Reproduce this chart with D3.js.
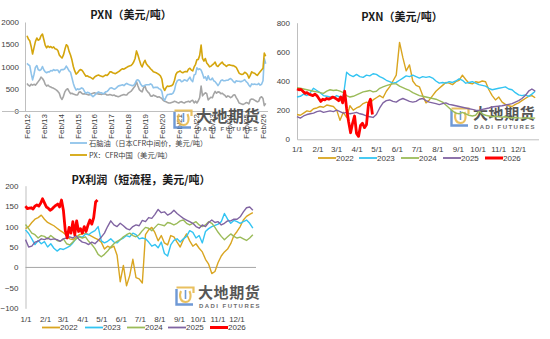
<!DOCTYPE html>
<html><head><meta charset="utf-8">
<script src="https://cdn.jsdelivr.net/npm/d3@7"></script>
<style>body{margin:0;background:#fff;}svg{display:block;}</style>
</head><body>
<svg id="c" width="550" height="339"></svg>
<script>
// ---------- Panel A: PX / naphtha / PXN, monthly from Feb 2012 ----------
const longStart = [2012, 1]; // Feb 2012
const longTickLabels = ["Feb/12","Feb/13","Feb/14","Feb/15","Feb/16","Feb/17","Feb/18","Feb/19","Feb/20","Feb/21","Feb/22","Feb/23","Feb/24","Feb/25","Feb/26"];
const pxCFR = [
1690,1620,1580,1450,1280,1420,1560,1640,1590,1610,1690,
1730,1600,1480,1420,1460,1430,1450,1420,1440,1400,1390,1360,
1260,1220,1190,1260,1380,1490,1460,1340,1260,1150,1000,900,
830,860,900,930,920,880,830,780,790,770,760,740,
720,760,780,800,810,790,780,770,790,810,800,830,
880,880,860,850,840,860,880,900,930,950,940,960,
980,1000,1010,1020,1050,1100,1180,1350,1260,1150,1050,990,
1080,1140,1060,1020,990,950,920,880,870,860,840,820,
790,720,530,460,520,560,550,560,570,600,690,820,
870,880,900,870,860,880,890,880,940,960,920,900,
990,1050,1150,1160,1250,1480,1180,1120,1180,1080,1040,990,
1010,1040,1060,1100,1020,1000,1040,1070,1100,1050,1030,1000,
1030,1040,1030,1020,1020,1000,980,920,850,830,820,830,
870,850,820,740,800,880,860,850,820,800,840,880,
920,960,1300,1230];
const naphtha = [
1070,1040,1020,850,700,820,980,1020,930,910,930,
1000,920,880,860,880,880,910,900,930,910,920,920,
860,920,930,930,950,1010,960,900,870,750,620,530,
470,500,480,500,520,500,440,400,420,410,390,350,
320,350,380,410,430,410,410,390,400,430,440,470,
510,520,510,490,500,530,560,570,580,590,570,600,
620,600,590,580,570,580,620,690,700,670,600,560,
560,580,590,590,590,610,590,520,530,530,530,500,
490,440,290,240,310,370,370,380,380,400,470,610,
680,700,700,660,670,700,690,670,720,760,690,660,
810,830,970,930,950,920,840,740,770,690,790,710,
700,740,680,660,620,570,615,680,700,680,680,690,
690,715,730,700,660,635,680,670,670,660,665,682,
705,660,635,580,545,610,595,605,595,595,620,580,
600,680,1180,1060];
const pxnSpread = [
620,580,560,600,580,600,580,620,660,700,760,
730,680,600,560,580,550,540,520,510,490,470,440,
400,300,260,330,430,480,500,440,390,400,380,370,
360,360,420,430,400,380,390,380,370,360,370,390,
400,410,400,390,380,380,370,380,390,380,360,360,
370,360,350,360,340,330,320,330,350,360,370,360,
360,400,420,440,480,520,560,660,560,480,450,430,
520,560,470,430,400,340,330,360,340,330,310,320,
300,280,240,220,210,190,180,180,190,200,220,210,
190,180,200,210,190,180,200,210,220,200,230,240,
180,220,180,230,300,560,340,380,410,390,250,280,
310,300,380,440,400,430,425,390,400,370,350,310,
340,325,300,320,360,365,300,250,180,170,155,148,
165,190,185,160,255,270,265,245,225,205,220,300,
320,280,120,170];

// ---------- Seasonal panels ----------
const yearNames = ["2022","2023","2024","2025","2026"];
const monthLabels = ["1/1","2/1","3/1","4/1","5/1","6/1","7/1","8/1","9/1","10/1","11/1","12/1"];
const dayStep = 5;      // full years: one value every 5 days
const dayStep2026 = 3;  // 2026: one value every 3 days

const pxn2022 = [170,165,180,195,190,210,215,225,220,235,230,225,200,130,185,150,230,200,215,225,245,255,250,270,285,300,285,330,360,400,440,665,560,470,510,400,370,360,300,250,270,300,330,350,370,390,385,375,395,405,440,410,385,380,395,390,400,395,340,300,270,290,255,240,230,225,240,250,265,280,295,300,285];
const pxn2023 = [290,295,310,300,320,350,335,320,300,295,290,285,300,290,295,460,440,430,445,430,425,440,435,450,445,430,420,405,395,385,390,405,420,435,430,440,430,420,430,425,430,420,400,385,390,385,395,390,400,415,405,385,390,395,385,375,370,365,350,340,345,350,355,360,345,340,320,305,300,305,295,310,330];
const pxn2024 = [355,350,345,340,335,330,325,320,315,330,340,335,338,330,320,300,290,295,305,315,325,330,335,325,330,350,360,368,375,380,380,365,355,345,335,320,310,300,295,290,285,280,275,265,255,235,215,195,180,175,185,175,165,160,165,195,175,165,160,155,158,155,152,155,150,148,150,147,145,148,145,147,145];
const pxn2025 = [155,145,160,170,175,180,190,195,185,190,195,190,200,190,180,185,175,180,185,175,170,160,155,150,170,215,250,265,270,260,255,270,280,270,260,255,260,275,280,265,255,250,245,238,245,250,240,235,230,225,220,215,210,205,200,198,205,210,215,222,225,228,230,235,240,245,255,265,280,300,330,345,330];
const pxn2026 = [345,340,342,330,315,320,310,305,300,310,300,280,260,275,270,280,275,282,290,285,275,265,290,250,330,210,120,45,110,160,40,20,95,110,80,100,240,275,170];

const profit2022 = [95,100,110,118,122,128,118,110,106,102,96,90,85,78,70,68,74,80,82,84,80,76,72,68,62,45,52,48,52,30,-35,5,-45,-20,20,-25,-28,-38,80,92,98,85,65,78,60,55,78,75,62,50,68,82,65,52,58,47,38,20,8,-15,-10,12,28,38,45,58,78,88,100,116,125,130,134];
const profit2023 = [92,83,70,56,66,58,63,50,58,47,40,46,44,48,52,60,70,76,74,82,80,86,90,100,65,60,64,70,62,60,68,72,78,75,84,80,70,72,70,62,52,56,48,62,34,28,55,66,70,62,70,76,90,86,72,78,60,88,95,100,103,106,112,132,118,108,115,112,108,112,116,108,96];
const profit2024 = [105,95,84,80,72,78,76,70,78,72,66,64,70,58,55,62,70,75,72,75,64,56,46,32,26,32,40,50,58,64,68,75,80,84,78,75,80,90,98,96,90,98,106,104,102,110,108,104,108,114,116,108,104,108,112,104,100,104,112,108,98,86,76,68,75,82,76,72,74,70,66,72,80];
const profit2025 = [68,50,52,62,64,70,68,72,68,70,68,64,70,72,75,72,78,68,62,60,56,62,58,66,74,84,100,114,104,100,108,102,95,92,100,104,102,115,112,122,120,130,142,134,136,128,132,140,132,126,120,116,112,108,100,96,104,100,110,116,110,112,104,108,114,114,118,118,124,136,146,148,140];
const profit2026 = [150,144,145,146,143,150,153,150,157,168,158,148,145,140,143,148,152,155,148,165,140,90,72,98,84,112,80,114,88,95,84,100,88,104,116,106,122,160,165];

const yearColors = ["#D9A520","#33C4F2","#9BBB59","#8064A2","#FF0000"];
const yearWidths = [1.4,1.4,1.4,1.4,2.8];

// ---------- drawing ----------
const FONT = '"Liberation Sans","Noto Sans CJK SC",sans-serif';
const CJK = '"Noto Sans CJK SC","Liberation Sans",sans-serif';
const AXIS = "#BFBFBF", TXT = "#404040";
const svg = d3.select("#c");

function styleAxis(g){
  g.select(".domain").attr("stroke",AXIS).attr("stroke-width",1);
  g.selectAll(".tick line").remove();
  g.selectAll("text").attr("font-size",8).attr("fill",TXT).attr("font-family",FONT);
}
function title(x,y,t){
  svg.append("text").attr("x",x).attr("y",y).attr("text-anchor","middle")
    .attr("font-family",CJK).attr("font-weight","bold").attr("font-size",11).attr("fill","#1a1a1a").text(t);
}
function logo(x,y,fs){
  const g = svg.append("g").attr("transform",`translate(${x},${y})`).attr("opacity",0.88);
  g.append("path").attr("d","M1.5,3 V18.5 H18").attr("fill","none").attr("stroke","#5B8BD0").attr("stroke-width",2.4);
  g.append("path").attr("d","M1.5,1.5 H18.5 V7").attr("fill","none").attr("stroke","#E6B84A").attr("stroke-width",2.2);
  g.append("path").attr("d","M6,5 C3.5,11 6,16 10.5,16 C15,16 17,11 14.5,5").attr("fill","none").attr("stroke","#E6B84A").attr("stroke-width",2);
  g.append("path").attr("d","M10.5,4 V13").attr("fill","none").attr("stroke","#5B8BD0").attr("stroke-width",1.6);
  g.append("text").attr("x",23).attr("y",fs*0.82).attr("font-family",CJK).attr("font-size",fs)
    .attr("font-weight","bold").attr("letter-spacing",0.6).attr("fill","#3F3F3F").text("大地期货");
  g.append("text").attr("x",24).attr("y",fs*0.82+9.5).attr("font-family",FONT).attr("font-size",6)
    .attr("font-weight","bold").attr("letter-spacing",1.45).attr("fill","#595959").text("DADI FUTURES");
}

// ===== Panel A =====
(function(){
  const dates = pxCFR.map((_,i)=>new Date(longStart[0], longStart[1]+i, 1));
  const x = d3.scaleTime().domain([new Date(2012,1,1), new Date(2026,1,1)]).range([27,263]);
  const y = d3.scaleLinear().domain([0,2000]).range([111,22]);
  title(131,19,"PXN（美元/吨）");
  const ya = svg.append("g").attr("transform","translate(25,0)")
    .call(d3.axisLeft(y).tickValues([0,500,1000,1500,2000]).tickFormat(d3.format("d")).tickSize(0).tickPadding(6));
  styleAxis(ya);
  const xa = svg.append("g").attr("transform","translate(0,111)")
    .call(d3.axisBottom(x).tickValues(longTickLabels.map((_,i)=>new Date(2012+i,1,1)))
      .tickFormat((d,i)=>longTickLabels[i]).tickSize(0).tickSizeOuter(0));
  styleAxis(xa);
  xa.select(".domain").attr("d","M2,0.5H268");
  xa.selectAll("text").attr("transform","rotate(-90)").attr("text-anchor","end")
    .attr("x",-3).attr("y",0).attr("dy","0.32em");
  const line = d3.line().x((d,i)=>x(dates[i])).y(d=>y(d));
  [[pxnSpread,"#A5A5A5"],[naphtha,"#8FC3EA"],[pxCFR,"#D4A50C"]].forEach(([s,c])=>{
    svg.append("path").datum(s).attr("d",line).attr("fill","none").attr("stroke",c)
      .attr("stroke-width",1.6).attr("stroke-linejoin","round");
  });
  logo(173,109,15.5);
  const leg = [["#8FC3EA","石脑油（日本CFR中间价，美元/吨）",143],["#D4A50C","PX：CFR中国（美元/吨）",155]];
  leg.forEach(([c,t,yy])=>{
    svg.append("line").attr("x1",70).attr("x2",87).attr("y1",yy).attr("y2",yy).attr("stroke",c).attr("stroke-width",1.8);
    svg.append("text").attr("x",89).attr("y",yy).attr("dy","0.35em").attr("font-family",CJK)
      .attr("font-size",7.3).attr("fill",TXT).text(t);
  });
})();

// ===== seasonal panel helper =====
function seasonal(opt){
  const x = d3.scaleLinear().domain([0,365]).range(opt.xr);
  const y = d3.scaleLinear().domain(opt.yd).range(opt.yr);
  title(opt.tx,opt.ty,opt.title);
  const ya = svg.append("g").attr("transform",`translate(${opt.xr[0]},0)`)
    .call(d3.axisLeft(y).tickValues(opt.yticks).tickFormat(d3.format("d")).tickSize(0).tickPadding(7));
  styleAxis(ya);
  const monthStarts = d3.range(12).map(m=>d3.timeDay.count(new Date(2021,0,1), new Date(2021,m,1)));
  const xa = svg.append("g").attr("transform",`translate(0,${opt.yr[0]})`)
    .call(d3.axisBottom(x).tickValues(monthStarts).tickFormat((d,i)=>monthLabels[i]).tickSize(0).tickPadding(opt.xpad));
  styleAxis(xa);
  if (opt.zeroLine) {
    xa.select(".domain").remove();
    svg.append("line").attr("x1",opt.xr[0]).attr("x2",opt.xr[1]).attr("y1",y(0)).attr("y2",y(0))
      .attr("stroke","#A6A6A6").attr("stroke-width",1);
  }
  logo(opt.logo[0],opt.logo[1],opt.logo[2]);
  opt.series.forEach((s,k)=>{
    const st = k===4 ? dayStep2026 : dayStep;
    const line = d3.line().x((d,i)=>x(i*st)).y(d=>y(d));
    svg.append("path").datum(s).attr("d",line).attr("fill","none").attr("stroke",yearColors[k])
      .attr("stroke-width",yearWidths[k]).attr("stroke-linejoin","round");
  });
  opt.legX.forEach((lx,k)=>{
    svg.append("line").attr("x1",lx).attr("x2",lx+18).attr("y1",opt.legY).attr("y2",opt.legY)
      .attr("stroke",yearColors[k]).attr("stroke-width",k===4?3:1.8);
    svg.append("text").attr("x",lx+18).attr("y",opt.legY).attr("dy","0.35em").attr("font-family",FONT)
      .attr("font-size",8).attr("fill",TXT).text(yearNames[k]);
  });
}

// ===== Panel B =====
seasonal({
  xr:[297,538.5], yd:[0,800], yr:[139.3,22.7], yticks:[0,200,400,600,800],
  title:"PXN（美元/吨）", tx:402, ty:21, xpad:7,
  series:[pxn2022,pxn2023,pxn2024,pxn2025,pxn2026],
  legX:[318,359,401,443,485], legY:158, logo:[450,107,15]
});

// ===== Panel C =====
seasonal({
  xr:[25.5,256], yd:[-100,200], yr:[308.3,185.7], yticks:[-100,-50,0,50,100,150,200],
  title:"PX利润（短流程，美元/吨）", tx:141, ty:184, xpad:8, zeroLine:true,
  series:[profit2022,profit2023,profit2024,profit2025,profit2026],
  legX:[42,85,127,168,210], legY:327.5, logo:[175,286,15]
});
</script>
</body></html>
